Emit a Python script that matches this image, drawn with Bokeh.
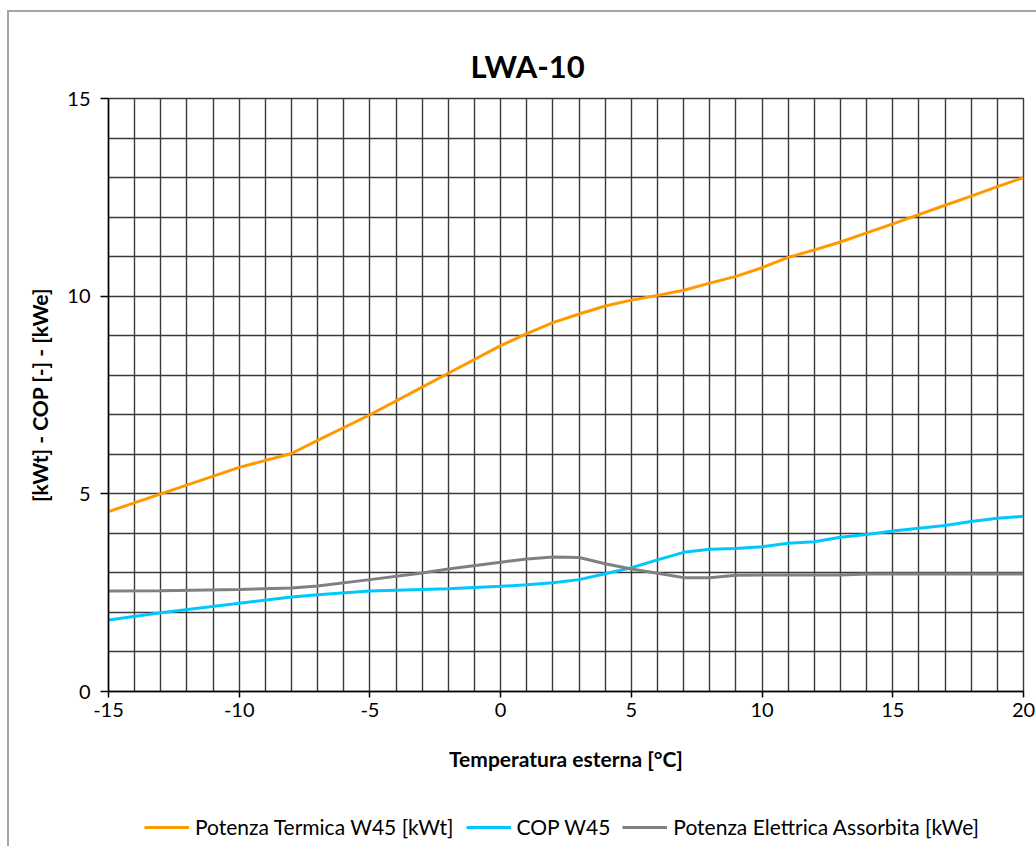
from bokeh.plotting import figure
from bokeh.layouts import column
from bokeh.models import (SingleIntervalTicker, FixedTicker, Legend, LegendItem, Range1d, Title,
                          CustomJSTickFormatter)
from bokeh.embed import file_html
from bokeh.resources import INLINE

temp = [-15, -13, -10, -8, -7, -5, -3, -2, 0, 1, 2, 3, 4, 5, 6, 7, 8, 9, 10, 11, 12, 13, 14, 15, 17, 18, 19, 20]
potenza_termica = [4.55, 5.0, 5.67, 6.02, 6.35, 7.0, 7.7, 8.05, 8.75, 9.05, 9.33, 9.55, 9.75, 9.9, 10.02,
                   10.15, 10.33, 10.5, 10.72, 10.98, 11.17, 11.37, 11.6, 11.83, 12.3, 12.53, 12.77, 13.0]
cop = [1.81, 1.99, 2.23, 2.39, 2.45, 2.54, 2.58, 2.6, 2.66, 2.7, 2.75, 2.83, 2.98, 3.13, 3.33,
       3.52, 3.6, 3.62, 3.66, 3.75, 3.79, 3.9, 3.97, 4.06, 4.2, 4.3, 4.38, 4.43]
potenza_elettrica = [2.54, 2.55, 2.58, 2.62, 2.67, 2.83, 3.0, 3.1, 3.27, 3.35, 3.4, 3.39, 3.23, 3.1, 2.99,
                     2.88, 2.88, 2.94, 2.95, 2.95, 2.95, 2.95, 2.97, 2.97, 2.97, 2.97, 2.97, 2.97]
x_ticks = [-15, -10, -5, 0, 5, 10, 15, 20]
y_ticks = [0, 5, 10, 15]
series_names = ["Potenza Termica W45 [kWt]", "COP W45", "Potenza Elettrica Assorbita [kWe]"]
series_colors = ["#FF9900", "#00C8FF", "#808080"]
series_values = [potenza_termica, cop, potenza_elettrica]

FONT = "Lato"

p = figure(width=1027, height=794, output_backend="svg", toolbar_location=None,
           x_range=Range1d(-15, 20), y_range=Range1d(0, 15),
           min_border_left=99, min_border_top=86, min_border_right=13, min_border_bottom=115)

p.title = Title(text="LWA-10", align="left", offset=362, text_font=FONT, text_font_size="31px",
                text_font_style="bold", text_color="#000000", standoff=28)

p.xaxis.ticker = FixedTicker(ticks=x_ticks)
p.yaxis.ticker = FixedTicker(ticks=y_ticks)
fmt = "return tick.toFixed(0);"
p.xaxis.formatter = CustomJSTickFormatter(code=fmt)
p.yaxis.formatter = CustomJSTickFormatter(code=fmt)
p.xgrid.ticker = SingleIntervalTicker(interval=1)
p.ygrid.ticker = SingleIntervalTicker(interval=1)
for g in (p.xgrid, p.ygrid):
    g.grid_line_color = "#3a3a3a"
    g.grid_line_width = 1.4
p.outline_line_color = "#3a3a3a"
p.outline_line_width = 1.4

for ax in (p.xaxis, p.yaxis):
    ax.axis_line_color = "#000000"
    ax.axis_line_width = 1.5
    ax.major_tick_line_color = "#000000"
    ax.major_tick_line_width = 1.5
    ax.major_tick_in = 0
    ax.minor_tick_line_color = None
    ax.major_label_text_font = FONT
    ax.major_label_text_font_size = "20px"
    ax.major_label_text_color = "#000000"
    ax.axis_label_text_font = FONT
    ax.axis_label_text_font_size = "21px"
    ax.axis_label_text_font_style = "bold"
    ax.axis_label_text_color = "#000000"

p.xaxis.major_tick_out = 6
p.yaxis.major_tick_out = 8
p.xaxis.major_label_standoff = 5
p.yaxis.major_label_standoff = 10
p.xaxis.axis_label = "Temperatura esterna [°C]"
p.yaxis.axis_label = "[kWt] - COP [-] - [kWe]"
p.xaxis.axis_label_standoff = 26
p.yaxis.axis_label_standoff = 12

for vals, color in zip(series_values, series_colors):
    p.line(temp, vals, line_color=color, line_width=3)

# separate strip holding the legend below the chart (series drawn out of its view)
lf = figure(width=1027, height=40, output_backend="svg", toolbar_location=None,
            x_range=Range1d(-15, 20), y_range=Range1d(-100, -99), x_axis_type=None, y_axis_type=None,
            min_border=0, outline_line_color=None)
lf.xgrid.visible = False
lf.ygrid.visible = False
leg_renderers = [lf.line(temp, vals, line_color=c, line_width=3)
                 for vals, c in zip(series_values, series_colors)]
legend = Legend(items=[LegendItem(label=n, renderers=[r]) for n, r in zip(series_names, leg_renderers)],
                orientation="horizontal", location=(36, 7),
                label_text_font=FONT, label_text_font_size="21px", label_text_color="#000000",
                glyph_width=45, label_standoff=6, spacing=12, padding=6,
                border_line_color=None, background_fill_alpha=0)
lf.add_layout(legend, "center")

root = column(p, lf, spacing=0,
              styles={"margin-left": "7px", "margin-top": "10px",
                      "border-left": "2px solid #a6a6a6", "border-top": "2px solid #a6a6a6"})

open("out.html", "w").write(file_html(root, INLINE))
